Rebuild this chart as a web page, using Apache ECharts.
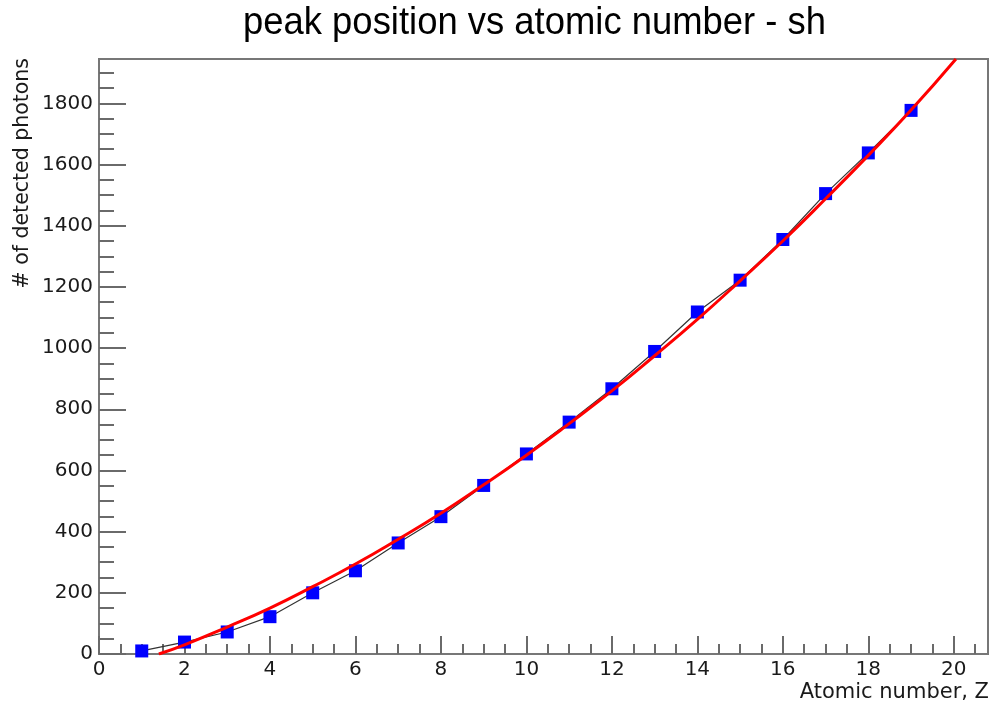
<!DOCTYPE html>
<html>
<head>
<meta charset="utf-8">
<script src="https://cdn.jsdelivr.net/npm/echarts@6/dist/echarts.min.js"></script>
<style>
  html, body { margin: 0; padding: 0; background: #fff; }
  #chart { width: 994px; height: 708px; }
</style>
</head>
<body>
<div id="chart"></div>
<script>
// Measured peak positions (number of detected photons) per atomic number Z
const atomicNumbers = [1, 2, 3, 4, 5, 6, 7, 8, 9, 10, 11, 12, 13, 14, 15, 16, 17, 18, 19];
const peakPositions = [10, 39, 72, 122, 200, 272, 363, 449, 551, 654, 758, 867, 989, 1118, 1222, 1355, 1505, 1638, 1777];

// Fitted curve, sampled along Z
const fitZ = [1.4, 2, 3, 4, 5, 6, 7, 8, 9, 10, 11, 12, 13, 14, 15, 16, 17, 18, 19, 20.05];
const fitPhotons = [0, 30, 88, 150, 220, 294, 375, 460, 553, 650, 753, 860, 975, 1094, 1220, 1350, 1488, 1630, 1778, 1945];

// Axis ranges and tick positions
const xRange = [0, 20.8];
const yRange = [0, 1945];
const xMajorTicks = [0, 2, 4, 6, 8, 10, 12, 14, 16, 18, 20];
const yMajorTicks = [0, 200, 400, 600, 800, 1000, 1200, 1400, 1600, 1800];
const xMinorStep = 0.5;
const yMinorStep = 50;

function minorTicks(range, step, majors) {
  const out = [];
  for (let v = range[0]; v <= range[1] + 1e-9; v += step) {
    const r = Math.round(v * 100) / 100;
    if (majors.indexOf(r) < 0) out.push(r);
  }
  return out;
}

const frameColor = '#777777';
const tickColor = '#6a6a6a';
const labelFont = 'DejaVu Sans';

const chart = echarts.init(document.getElementById('chart'), null, { renderer: 'canvas' });

const baseAxis = (range) => ({
  type: 'value',
  min: range[0],
  max: range[1],
  splitLine: { show: false },
  axisLine: { show: true, lineStyle: { color: frameColor, width: 2 } }
});

chart.setOption({
  animation: false,
  backgroundColor: '#ffffff',
  grid: {
    left: 99, right: 6, top: 59, bottom: 54,
    show: true, borderColor: frameColor, borderWidth: 2, backgroundColor: 'transparent'
  },
  xAxis: [
    Object.assign(baseAxis(xRange), {
      position: 'bottom',
      axisTick: { show: true, inside: true, length: 18, customValues: xMajorTicks,
                  lineStyle: { color: tickColor, width: 2 } },
      axisLabel: { show: true, customValues: xMajorTicks, margin: 6,
                   fontFamily: labelFont, fontSize: 20, color: '#1a1a1a',
                   formatter: (v) => String(v) }
    }),
    Object.assign(baseAxis(xRange), {
      position: 'bottom',
      axisTick: { show: true, inside: true, length: 10,
                  customValues: minorTicks(xRange, xMinorStep, xMajorTicks),
                  lineStyle: { color: tickColor, width: 2 } },
      axisLabel: { show: false }
    })
  ],
  yAxis: [
    Object.assign(baseAxis(yRange), {
      position: 'left',
      axisTick: { show: true, inside: true, length: 27, customValues: yMajorTicks,
                  lineStyle: { color: tickColor, width: 2 } },
      axisLabel: { show: true, customValues: yMajorTicks, margin: 6,
                   fontFamily: labelFont, fontSize: 20, color: '#1a1a1a',
                   formatter: (v) => String(v) }
    }),
    Object.assign(baseAxis(yRange), {
      position: 'left',
      axisTick: { show: true, inside: true, length: 15,
                  customValues: minorTicks(yRange, yMinorStep, yMajorTicks),
                  lineStyle: { color: tickColor, width: 2 } },
      axisLabel: { show: false }
    })
  ],
  graphic: [
    {
      type: 'text', x: 243, y: 23, scaleX: 0.934, z: 10,
      style: { text: 'peak position vs atomic number - sh', fill: '#000',
               font: '39px "Liberation Sans"', align: 'left', verticalAlign: 'middle' }
    },
    {
      type: 'text', x: 23, y: 58, rotation: Math.PI / 2, z: 10,
      style: { text: '# of detected photons', fill: '#1a1a1a',
               font: '20.5px "DejaVu Sans"', align: 'right', verticalAlign: 'middle' }
    },
    {
      type: 'text', x: 989, y: 693, z: 10,
      style: { text: 'Atomic number, Z', fill: '#1a1a1a',
               font: '21px "DejaVu Sans"', align: 'right', verticalAlign: 'middle' }
    }
  ],
  series: [
    {
      name: 'peak position',
      type: 'line',
      xAxisIndex: 0, yAxisIndex: 0,
      data: atomicNumbers.map((z, i) => [z, peakPositions[i]]),
      symbol: 'rect',
      symbolSize: 13,
      showSymbol: true,
      lineStyle: { color: '#333', width: 1.2 },
      itemStyle: { color: '#0000ff' },
      z: 2
    },
    {
      name: 'fit',
      type: 'line',
      xAxisIndex: 0, yAxisIndex: 0,
      data: fitZ.map((z, i) => [z, fitPhotons[i]]),
      smooth: true,
      showSymbol: false,
      symbol: 'none',
      lineStyle: { color: '#ff0000', width: 3 },
      z: 3
    }
  ]
});
</script>
</body>
</html>
